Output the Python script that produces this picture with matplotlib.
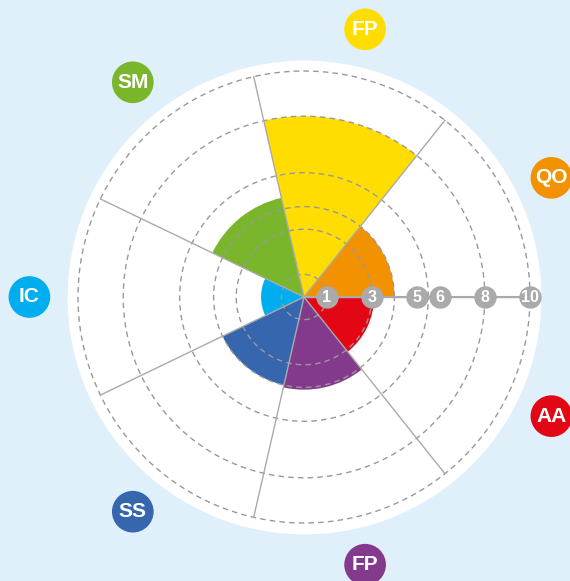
import numpy as np
import matplotlib
matplotlib.use("Agg")
import matplotlib.pyplot as plt

# sectors counter-clockwise from 3 o'clock
labels = ["QO", "FP", "SM", "IC", "SS", "FP", "AA"]
values = [4.0, 8.0, 4.5, 1.9, 4.0, 4.1, 3.1]
colors = ["#F39200", "#FFDD00", "#7AB62C", "#00AEEF", "#3566AE", "#833A8C", "#E30614"]
grid_rings = [1, 3, 4, 5.5, 8, 10]
scale_ticks = [1, 3, 5, 6, 8, 10]

plt.rcParams["font.family"] = ["Liberation Sans", "DejaVu Sans"]

W, H = 570, 581
fig = plt.figure(figsize=(W / 100, H / 100), dpi=100, facecolor="#DFF0FB")

# one data unit = 22.6 px, centre at (304, 297) px
px = 22.6
rmax = 12.5
cx, cy = 304, 297
half = rmax * px
ax = fig.add_axes([(cx - half) / W, (H - cy - half) / H, 2 * half / W, 2 * half / H],
                  projection="polar")
ax.set_facecolor("none")
ax.set_ylim(0, rmax)
ax.axis("off")

n = len(values)
step = 2 * np.pi / n
theta = np.arange(n) * step + step / 2

# white disc
t = np.linspace(0, 2 * np.pi, 400)
ax.fill_between(t, 0, 10.45, color="white", zorder=0)

ax.bar(theta, values, width=step, bottom=0, color=colors, linewidth=0, zorder=2)

# dashed rings
for r in grid_rings:
    ax.plot(t, np.full_like(t, r), color="#999999", lw=1, ls=(0, (4, 3)), zorder=3)

# sector separators
for k in range(n):
    ax.plot([k * step, k * step], [0, 10], color="#AAAAAA", lw=1, zorder=3)

# scale markers along 0 deg
ax.plot([0, 0], [0, 10], color="#AAAAAA", lw=1.5, zorder=4)
ax.scatter(np.zeros(len(scale_ticks)), scale_ticks, s=260, color="#AAAAAA",
           zorder=5, linewidths=0)
for v in scale_ticks:
    ax.text(0, v, str(v), color="white", fontsize=11.5, fontweight="bold",
            ha="center", va="center", zorder=6)

# category badges
ax.scatter(theta, np.full(n, 12.15), s=900, color=colors, zorder=5,
           linewidths=0, clip_on=False)
for th, lab in zip(theta, labels):
    ax.text(th, 12.15, lab, color="white", fontsize=15, fontweight="bold",
            ha="center", va="center", zorder=6, clip_on=False)

fig.savefig("out.png", dpi=100, facecolor=fig.get_facecolor())
